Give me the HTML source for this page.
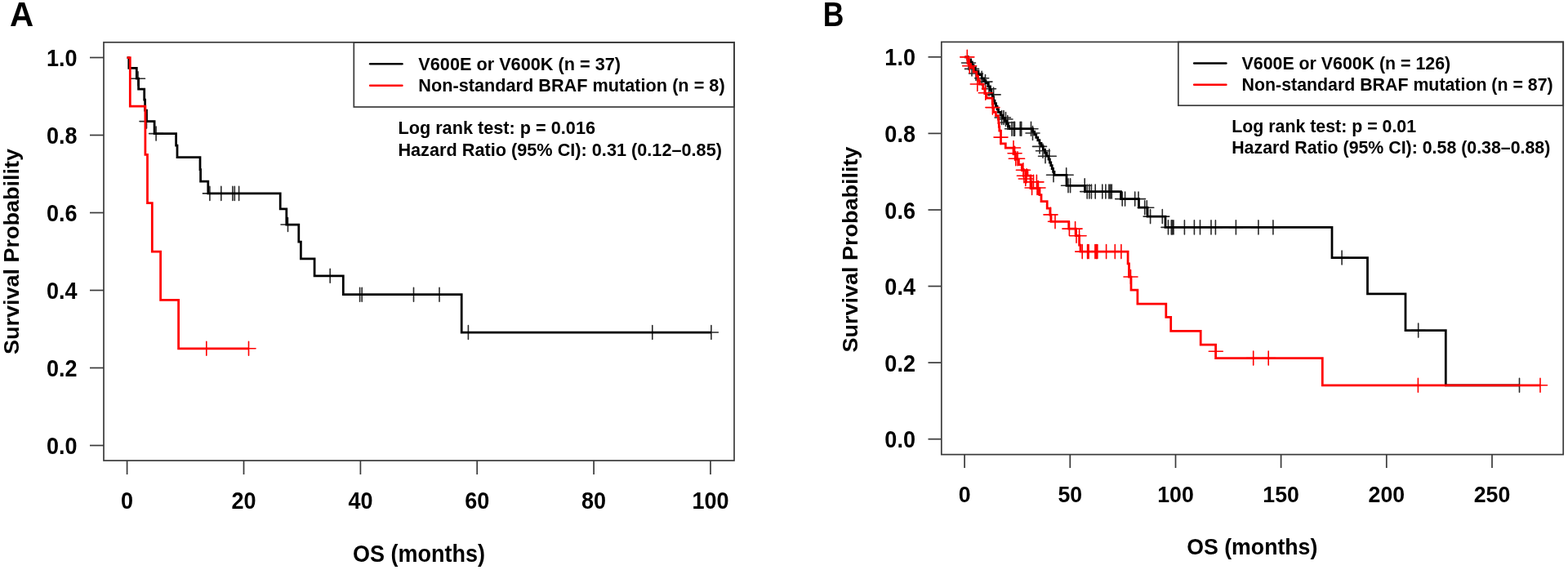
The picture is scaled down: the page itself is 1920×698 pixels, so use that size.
<!DOCTYPE html>
<html><head><meta charset="utf-8"><title>Kaplan-Meier survival curves</title>
<style>
html,body{margin:0;padding:0;background:#fff;}
body{width:1920px;height:698px;overflow:hidden;}
svg{display:block;}
text{font-family:'Liberation Sans', Arial, Helvetica, sans-serif;font-weight:bold;fill:#000;}
.ax{font-size:27px;}
.axB{font-size:26.7px;}
.lgA{font-size:21.7px;}
.lgB{font-size:21.35px;}
.lab{font-size:42.3px;}
</style></head>
<body>
<svg width="1920" height="698" viewBox="0 0 1920 698" shape-rendering="auto">
<rect width="1920" height="698" fill="#fff"/>
<rect x="127" y="51.8" width="772" height="512.2" fill="none" stroke="#3a3a3a" stroke-width="1.7"/>
<line x1="110" y1="545.5" x2="127" y2="545.5" stroke="#3a3a3a" stroke-width="1.7"/>
<text transform="translate(94.5 556.1) scale(1.0 1.06)" text-anchor="end" class="ax">0.0</text>
<line x1="110" y1="450.5" x2="127" y2="450.5" stroke="#3a3a3a" stroke-width="1.7"/>
<text transform="translate(94.5 461.1) scale(1.0 1.06)" text-anchor="end" class="ax">0.2</text>
<line x1="110" y1="355.5" x2="127" y2="355.5" stroke="#3a3a3a" stroke-width="1.7"/>
<text transform="translate(94.5 366.1) scale(1.0 1.06)" text-anchor="end" class="ax">0.4</text>
<line x1="110" y1="260.5" x2="127" y2="260.5" stroke="#3a3a3a" stroke-width="1.7"/>
<text transform="translate(94.5 271.1) scale(1.0 1.06)" text-anchor="end" class="ax">0.6</text>
<line x1="110" y1="165.5" x2="127" y2="165.5" stroke="#3a3a3a" stroke-width="1.7"/>
<text transform="translate(94.5 176.1) scale(1.0 1.06)" text-anchor="end" class="ax">0.8</text>
<line x1="110" y1="70.5" x2="127" y2="70.5" stroke="#3a3a3a" stroke-width="1.7"/>
<text transform="translate(94.5 81.1) scale(1.0 1.06)" text-anchor="end" class="ax">1.0</text>
<line x1="155.6" y1="564" x2="155.6" y2="581" stroke="#3a3a3a" stroke-width="1.7"/>
<text transform="translate(155.6 623.2) scale(1.0 1.06)" text-anchor="middle" class="ax">0</text>
<line x1="298.5" y1="564" x2="298.5" y2="581" stroke="#3a3a3a" stroke-width="1.7"/>
<text transform="translate(298.5 623.2) scale(1.0 1.06)" text-anchor="middle" class="ax">20</text>
<line x1="441.4" y1="564" x2="441.4" y2="581" stroke="#3a3a3a" stroke-width="1.7"/>
<text transform="translate(441.4 623.2) scale(1.0 1.06)" text-anchor="middle" class="ax">40</text>
<line x1="584.2" y1="564" x2="584.2" y2="581" stroke="#3a3a3a" stroke-width="1.7"/>
<text transform="translate(584.2 623.2) scale(1.0 1.06)" text-anchor="middle" class="ax">60</text>
<line x1="727.1" y1="564" x2="727.1" y2="581" stroke="#3a3a3a" stroke-width="1.7"/>
<text transform="translate(727.1 623.2) scale(1.0 1.06)" text-anchor="middle" class="ax">80</text>
<line x1="870" y1="564" x2="870" y2="581" stroke="#3a3a3a" stroke-width="1.7"/>
<text transform="translate(870 623.2) scale(1.0 1.06)" text-anchor="middle" class="ax">100</text>
<text transform="translate(513 688) scale(1.0 1.06)" text-anchor="middle" class="ax">OS (months)</text>
<text transform="translate(22.9 308) rotate(-90) scale(1 0.96)" text-anchor="middle" class="ax">Survival Probability</text>
<text transform="translate(12.1 32) scale(0.955 1.025)" class="lab">A</text>
<rect x="433.3" y="52" width="465.7" height="79" fill="none" stroke="#3a3a3a" stroke-width="1.7"/>
<line x1="453.2" y1="78.2" x2="492.4" y2="78.2" stroke="#000" stroke-width="2.6" stroke-linecap="round"/>
<line x1="453.2" y1="104.7" x2="492.4" y2="104.7" stroke="#f00" stroke-width="2.6" stroke-linecap="round"/>
<text transform="translate(512.3 85.8) scale(1.0 1.03)" class="lgA">V600E or V600K (n = 37)</text>
<text transform="translate(512.3 112.4) scale(1.0 1.03)" class="lgA">Non-standard BRAF mutation (n = 8)</text>
<text transform="translate(487.4 164.2) scale(1.0 1.03)" class="lgA">Log rank test: p = 0.016</text>
<text transform="translate(487.4 190.5) scale(1.0 1.03)" class="lgA">Hazard Ratio (95% CI): 0.31 (0.12–0.85)</text>
<path d="M160.5 96.2H177.5M169 87.7V104.7M171 148.6H188M179.5 140.1V157.1M182.6 163.6H199.6M191.1 155.1V172.1M248.4 236.9H265.4M256.9 228.4V245.4M262.3 236.9H279.3M270.8 228.4V245.4M276.4 236.9H293.4M284.9 228.4V245.4M278.8 236.9H295.8M287.3 228.4V245.4M284.1 236.9H301.1M292.6 228.4V245.4M344 275H361M352.5 266.5V283.5M395.7 337.8H412.7M404.2 329.3V346.3M432.1 360.7H449.1M440.6 352.2V369.2M434.7 360.7H451.7M443.2 352.2V369.2M498 360.7H515M506.5 352.2V369.2M529.5 360.7H546.5M538 352.2V369.2M564.9 407H581.9M573.4 398.5V415.5M790.3 407H807.3M798.8 398.5V415.5M862.4 407H879.4M870.9 398.5V415.5" stroke="#2a2a2a" stroke-width="1.6" stroke-linecap="round" fill="none"/>
<path d="M155.6 70.5 L157.8 70.5 L157.8 83.3 L167.3 83.3 L167.3 96.2 L169.6 96.2 L169.6 109 L176.7 109 L176.7 122 L177.6 122 L177.6 135 L179.5 135 L179.5 148.6 L189.1 148.6 L189.1 163.6 L215.6 163.6 L215.6 178 L217 178 L217 192.6 L245 192.6 L245 207.5 L245.6 207.5 L245.6 222 L254.8 222 L254.8 236.9 L343.2 236.9 L343.2 255.9 L350.8 255.9 L350.8 275 L365.8 275 L365.8 296.1 L368.4 296.1 L368.4 316.8 L385.1 316.8 L385.1 337.8 L420.3 337.8 L420.3 360.7 L565.2 360.7 L565.2 407 L870.9 407" stroke="#000" stroke-width="2.75" fill="none"/>
<path d="M244.3 426.8H261.3M252.8 418.3V435.3M296 426.8H313M304.5 418.3V435.3" stroke="#f00" stroke-width="1.6" stroke-linecap="round" fill="none"/>
<path d="M155.6 70.5 L159.3 70.5 L159.3 130 L177.9 130 L177.9 189.3 L180.5 189.3 L180.5 248.6 L186.3 248.6 L186.3 308.1 L196.6 308.1 L196.6 367.4 L218.6 367.4 L218.6 426.8 L304.5 426.8" stroke="#f00" stroke-width="2.75" fill="none"/>
<rect x="1152.8" y="51.4" width="761.4" height="505.2" fill="none" stroke="#3a3a3a" stroke-width="1.7"/>
<line x1="1136.5" y1="537.7" x2="1152.8" y2="537.7" stroke="#3a3a3a" stroke-width="1.7"/>
<text transform="translate(1120.9 548.3) scale(1.0 1.06)" text-anchor="end" class="ax">0.0</text>
<line x1="1136.5" y1="444.1" x2="1152.8" y2="444.1" stroke="#3a3a3a" stroke-width="1.7"/>
<text transform="translate(1120.9 454.7) scale(1.0 1.06)" text-anchor="end" class="ax">0.2</text>
<line x1="1136.5" y1="350.5" x2="1152.8" y2="350.5" stroke="#3a3a3a" stroke-width="1.7"/>
<text transform="translate(1120.9 361.1) scale(1.0 1.06)" text-anchor="end" class="ax">0.4</text>
<line x1="1136.5" y1="257" x2="1152.8" y2="257" stroke="#3a3a3a" stroke-width="1.7"/>
<text transform="translate(1120.9 267.6) scale(1.0 1.06)" text-anchor="end" class="ax">0.6</text>
<line x1="1136.5" y1="163.4" x2="1152.8" y2="163.4" stroke="#3a3a3a" stroke-width="1.7"/>
<text transform="translate(1120.9 174) scale(1.0 1.06)" text-anchor="end" class="ax">0.8</text>
<line x1="1136.5" y1="69.8" x2="1152.8" y2="69.8" stroke="#3a3a3a" stroke-width="1.7"/>
<text transform="translate(1120.9 80.4) scale(1.0 1.06)" text-anchor="end" class="ax">1.0</text>
<line x1="1181.1" y1="556.6" x2="1181.1" y2="573" stroke="#3a3a3a" stroke-width="1.7"/>
<text transform="translate(1181.1 614.8) scale(1.0 1.06)" text-anchor="middle" class="axB">0</text>
<line x1="1310.3" y1="556.6" x2="1310.3" y2="573" stroke="#3a3a3a" stroke-width="1.7"/>
<text transform="translate(1310.3 614.8) scale(1.0 1.06)" text-anchor="middle" class="axB">50</text>
<line x1="1439.5" y1="556.6" x2="1439.5" y2="573" stroke="#3a3a3a" stroke-width="1.7"/>
<text transform="translate(1439.5 614.8) scale(1.0 1.06)" text-anchor="middle" class="axB">100</text>
<line x1="1568.6" y1="556.6" x2="1568.6" y2="573" stroke="#3a3a3a" stroke-width="1.7"/>
<text transform="translate(1568.6 614.8) scale(1.0 1.06)" text-anchor="middle" class="axB">150</text>
<line x1="1697.8" y1="556.6" x2="1697.8" y2="573" stroke="#3a3a3a" stroke-width="1.7"/>
<text transform="translate(1697.8 614.8) scale(1.0 1.06)" text-anchor="middle" class="axB">200</text>
<line x1="1827" y1="556.6" x2="1827" y2="573" stroke="#3a3a3a" stroke-width="1.7"/>
<text transform="translate(1827 614.8) scale(1.0 1.06)" text-anchor="middle" class="axB">250</text>
<text transform="translate(1533.3 678.8) scale(1.0 1.06)" text-anchor="middle" class="axB">OS (months)</text>
<text transform="translate(1050.4 305.5) rotate(-90) scale(1 0.96)" text-anchor="middle" class="ax">Survival Probability</text>
<text transform="translate(1007.7 31.8) scale(0.84 1.0)" class="lab">B</text>
<rect x="1442.8" y="51.4" width="471.4" height="77.8" fill="none" stroke="#3a3a3a" stroke-width="1.7"/>
<line x1="1462.2" y1="77.45" x2="1501.4" y2="77.45" stroke="#000" stroke-width="2.6" stroke-linecap="round"/>
<line x1="1462.2" y1="103.7" x2="1501.4" y2="103.7" stroke="#f00" stroke-width="2.6" stroke-linecap="round"/>
<text transform="translate(1520.6 84.9) scale(1.0 1.03)" class="lgB">V600E or V600K (n = 126)</text>
<text transform="translate(1520.6 111.1) scale(1.0 1.03)" class="lgB">Non-standard BRAF mutation (n = 87)</text>
<text transform="translate(1508.2 162.4) scale(1.0 1.03)" class="lgB">Log rank test: p = 0.01</text>
<text transform="translate(1508.2 188.4) scale(1.0 1.03)" class="lgB">Hazard Ratio (95% CI): 0.58 (0.38–0.88)</text>
<path d="M1177.5 77H1194.5M1186 68.5V85.5M1181.5 84.4H1198.5M1190 75.9V92.9M1186.5 90H1203.5M1195 81.5V98.5M1193.7 95.8H1210.7M1202.2 87.3V104.3M1198 100.1H1215M1206.5 91.6V108.6M1202.5 108.7H1219.5M1211 100.2V117.2M1208.1 115.9H1225.1M1216.6 107.4V124.4M1218.1 144H1235.1M1226.6 135.5V152.5M1220.5 144H1237.5M1229 135.5V152.5M1223 146H1240M1231.5 137.5V154.5M1225.3 150H1242.3M1233.8 141.5V158.5M1230.5 157.7H1247.5M1239 149.2V166.2M1232.8 157.7H1249.8M1241.3 149.2V166.2M1234 157.7H1251M1242.5 149.2V166.2M1240.7 157.7H1257.7M1249.2 149.2V166.2M1242.2 157.7H1259.2M1250.7 149.2V166.2M1254 157.7H1271M1262.5 149.2V166.2M1256 163H1273M1264.5 154.5V171.5M1264.5 179.4H1281.5M1273 170.9V187.9M1268.5 184.8H1285.5M1277 176.3V193.3M1271.5 191.3H1288.5M1280 182.8V199.8M1276.3 191.3H1293.3M1284.8 182.8V199.8M1281.5 214.3H1298.5M1290 205.8V222.8M1297.2 214.3H1314.2M1305.7 205.8V222.8M1299.5 227.3H1316.5M1308 218.8V235.8M1302.1 227.3H1319.1M1310.6 218.8V235.8M1319.7 227.3H1336.7M1328.2 218.8V235.8M1322.7 234.6H1339.7M1331.2 226.1V243.1M1325.3 234.6H1342.3M1333.8 226.1V243.1M1327.9 234.6H1344.9M1336.4 226.1V243.1M1332.7 234.6H1349.7M1341.2 226.1V243.1M1341.3 234.6H1358.3M1349.8 226.1V243.1M1345.4 234.6H1362.4M1353.9 226.1V243.1M1349.4 234.6H1366.4M1357.9 226.1V243.1M1351.1 234.6H1368.1M1359.6 226.1V243.1M1352.8 234.6H1369.8M1361.3 226.1V243.1M1365.7 243.6H1382.7M1374.2 235.1V252.1M1369.1 243.6H1386.1M1377.6 235.1V252.1M1381.2 243.6H1398.2M1389.7 235.1V252.1M1385.5 243.6H1402.5M1394 235.1V252.1M1393.2 254.2H1410.2M1401.7 245.7V262.7M1395.8 254.2H1412.8M1404.3 245.7V262.7M1400.1 265.1H1417.1M1408.6 256.6V273.6M1414.8 265.1H1431.8M1423.3 256.6V273.6M1422 278.4H1439M1430.5 269.9V286.9M1425.8 278.4H1442.8M1434.3 269.9V286.9M1427 278.4H1444M1435.5 269.9V286.9M1428.5 278.4H1445.5M1437 269.9V286.9M1441.9 278.4H1458.9M1450.4 269.9V286.9M1453.9 278.4H1470.9M1462.4 269.9V286.9M1461 278.4H1478M1469.5 269.9V286.9M1474.5 278.4H1491.5M1483 269.9V286.9M1479.9 278.4H1496.9M1488.4 269.9V286.9M1504.9 278.4H1521.9M1513.4 269.9V286.9M1532.4 278.4H1549.4M1540.9 269.9V286.9M1550.4 278.4H1567.4M1558.9 269.9V286.9M1634.6 315.5H1651.6M1643.1 307V324M1728.2 404.6H1745.2M1736.7 396.1V413.1M1852 471.8H1869M1860.5 463.3V480.3" stroke="#2a2a2a" stroke-width="1.6" stroke-linecap="round" fill="none"/>
<path d="M1181.1 69.8 L1184.8 69.8 L1184.8 72.8 L1188.6 72.8 L1188.6 75.8 L1190.3 75.8 L1190.3 79.6 L1192 79.6 L1192 83.4 L1193.7 83.4 L1193.7 87.2 L1198 87.2 L1198 91.5 L1202.2 91.5 L1202.2 95.8 L1204.6 95.8 L1204.6 98.7 L1207 98.7 L1207 101.6 L1209.8 101.6 L1209.8 105.9 L1212.5 105.9 L1212.5 110.2 L1213.8 110.2 L1213.8 114.5 L1215.2 114.5 L1215.2 118.7 L1216.5 118.7 L1216.5 123 L1218 123 L1218 126.6 L1219.5 126.6 L1219.5 130.2 L1221 130.2 L1221 133.8 L1222.5 133.8 L1222.5 137.4 L1225.1 137.4 L1225.1 141 L1227.8 141 L1227.8 144.6 L1230.4 144.6 L1230.4 148.1 L1233 148.1 L1233 151.7 L1234.5 151.7 L1234.5 154.7 L1236 154.7 L1236 157.7 L1262.5 157.7 L1264.6 157.7 L1264.6 161.2 L1266.7 161.2 L1266.7 164.8 L1268.8 164.8 L1268.8 168.3 L1270.8 168.3 L1270.8 171.9 L1272.9 171.9 L1272.9 175.4 L1275 175.4 L1275 179 L1277.2 179 L1277.2 183 L1279.5 183 L1279.5 187 L1281.8 187 L1281.8 191 L1284 191 L1284 195 L1285.4 195 L1285.4 198.9 L1286.8 198.9 L1286.8 202.7 L1288.2 202.7 L1288.2 206.6 L1289.6 206.6 L1289.6 210.4 L1291 210.4 L1291 214.3 L1306 214.3 L1306 227.3 L1328.5 227.3 L1328.5 234.6 L1372.5 234.6 L1372.5 243.6 L1394.5 243.6 L1394.5 254.2 L1405.1 254.2 L1405.1 265.1 L1427 265.1 L1427 278.4 L1631 278.4 L1631 315.5 L1674.5 315.5 L1674.5 359.8 L1721 359.8 L1721 404.6 L1770.3 404.6 L1770.3 471.8 L1860.5 471.8" stroke="#000" stroke-width="2.75" fill="none"/>
<path d="M1175.8 69.9H1192.8M1184.3 61.4V78.4M1178.7 80.8H1195.7M1187.2 72.3V89.3M1188.3 103H1205.3M1196.8 94.5V111.5M1198.3 113.7H1215.3M1206.8 105.2V122.2M1206.9 131.6H1223.9M1215.4 123.1V140.1M1217 168.1H1234M1225.5 159.6V176.6M1232.5 181H1249.5M1241 172.5V189.5M1234.1 187.7H1251.1M1242.6 179.2V196.2M1235.3 194.3H1252.3M1243.8 185.8V202.8M1237.6 194.3H1254.6M1246.1 185.8V202.8M1244.4 208.3H1261.4M1252.9 199.8V216.8M1245.4 215.2H1262.4M1253.9 206.7V223.7M1248.6 215.2H1265.6M1257.1 206.7V223.7M1247.3 219H1264.3M1255.8 210.5V227.5M1253.8 222.9H1270.8M1262.3 214.4V231.4M1257 222.9H1274M1265.5 214.4V231.4M1260.9 222.9H1277.9M1269.4 214.4V231.4M1255.1 230H1272.1M1263.6 221.5V238.5M1261.5 230H1278.5M1270 221.5V238.5M1263 230H1280M1271.5 221.5V238.5M1278 262.9H1295M1286.5 254.4V271.4M1283.5 271.2H1300.5M1292 262.7V279.7M1300.9 280.1H1317.9M1309.4 271.6V288.6M1308.1 280.1H1325.1M1316.6 271.6V288.6M1309.5 288.7H1326.5M1318 280.2V297.2M1313.1 288.7H1330.1M1321.6 280.2V297.2M1316.7 308.1H1333.7M1325.2 299.6V316.6M1323.1 308.1H1340.1M1331.6 299.6V316.6M1324.6 308.1H1341.6M1333.1 299.6V316.6M1332.4 308.1H1349.4M1340.9 299.6V316.6M1333.9 308.1H1350.9M1342.4 299.6V316.6M1335.3 308.1H1352.3M1343.8 299.6V316.6M1346.1 308.1H1363.1M1354.6 299.6V316.6M1356.8 308.1H1373.8M1365.3 299.6V316.6M1364.4 308.1H1381.4M1372.9 299.6V316.6M1376 339H1393M1384.5 330.5V347.5M1480.3 430.3H1497.3M1488.8 421.8V438.8M1526.2 438.6H1543.2M1534.7 430.1V447.1M1544.7 438.6H1561.7M1553.2 430.1V447.1M1727.9 471.8H1744.9M1736.4 463.3V480.3M1877.5 471.8H1894.5M1886 463.3V480.3" stroke="#f00" stroke-width="1.6" stroke-linecap="round" fill="none"/>
<path d="M1181.1 69.8 L1184.3 69.8 L1184.3 70 L1185.4 70 L1185.4 74.3 L1186.5 74.3 L1186.5 78.6 L1188.6 78.6 L1188.6 82.9 L1192.2 82.9 L1192.2 88 L1195.8 88 L1195.8 93 L1197.6 93 L1197.6 98 L1199.4 98 L1199.4 103 L1203.7 103 L1203.7 108.7 L1205.8 108.7 L1205.8 114.5 L1208 114.5 L1208 120.2 L1215.2 120.2 L1215.2 127.4 L1215.9 127.4 L1215.9 132.4 L1216.6 132.4 L1216.6 137.4 L1219.4 137.4 L1219.4 141.7 L1222.3 141.7 L1222.3 146 L1222.8 146 L1222.8 150.7 L1223.3 150.7 L1223.3 155.3 L1223.8 155.3 L1223.8 160 L1225.5 160 L1225.5 168 L1225.5 168 L1225.5 175.8 L1231.3 175.8 L1231.3 181 L1241 181 L1241 188.7 L1244.2 188.7 L1244.2 195.1 L1247.4 195.1 L1247.4 201.6 L1251.3 201.6 L1251.3 208.7 L1258 208.7 L1258 215 L1262 215 L1262 222.9 L1262 222.9 L1262 230.6 L1273 230.6 L1273 238.6 L1275 238.6 L1275 246.5 L1282.2 246.5 L1282.2 255 L1285.8 255 L1285.8 263 L1287 263 L1287 271.3 L1308.7 271.3 L1308.7 280.1 L1317.3 280.1 L1317.3 288.7 L1321.6 288.7 L1321.6 300.2 L1323 300.2 L1323 308.1 L1381.1 308.1 L1381.1 322.9 L1382.5 322.9 L1382.5 339 L1385 339 L1385 355 L1392.9 355 L1392.9 372.2 L1427.8 372.2 L1427.8 388.3 L1433.7 388.3 L1433.7 405.4 L1470.2 405.4 L1470.2 422 L1488.6 422 L1488.6 438.6 L1619.3 438.6 L1619.3 471.8 L1886 471.8" stroke="#f00" stroke-width="2.75" fill="none"/>
</svg>
</body></html>
